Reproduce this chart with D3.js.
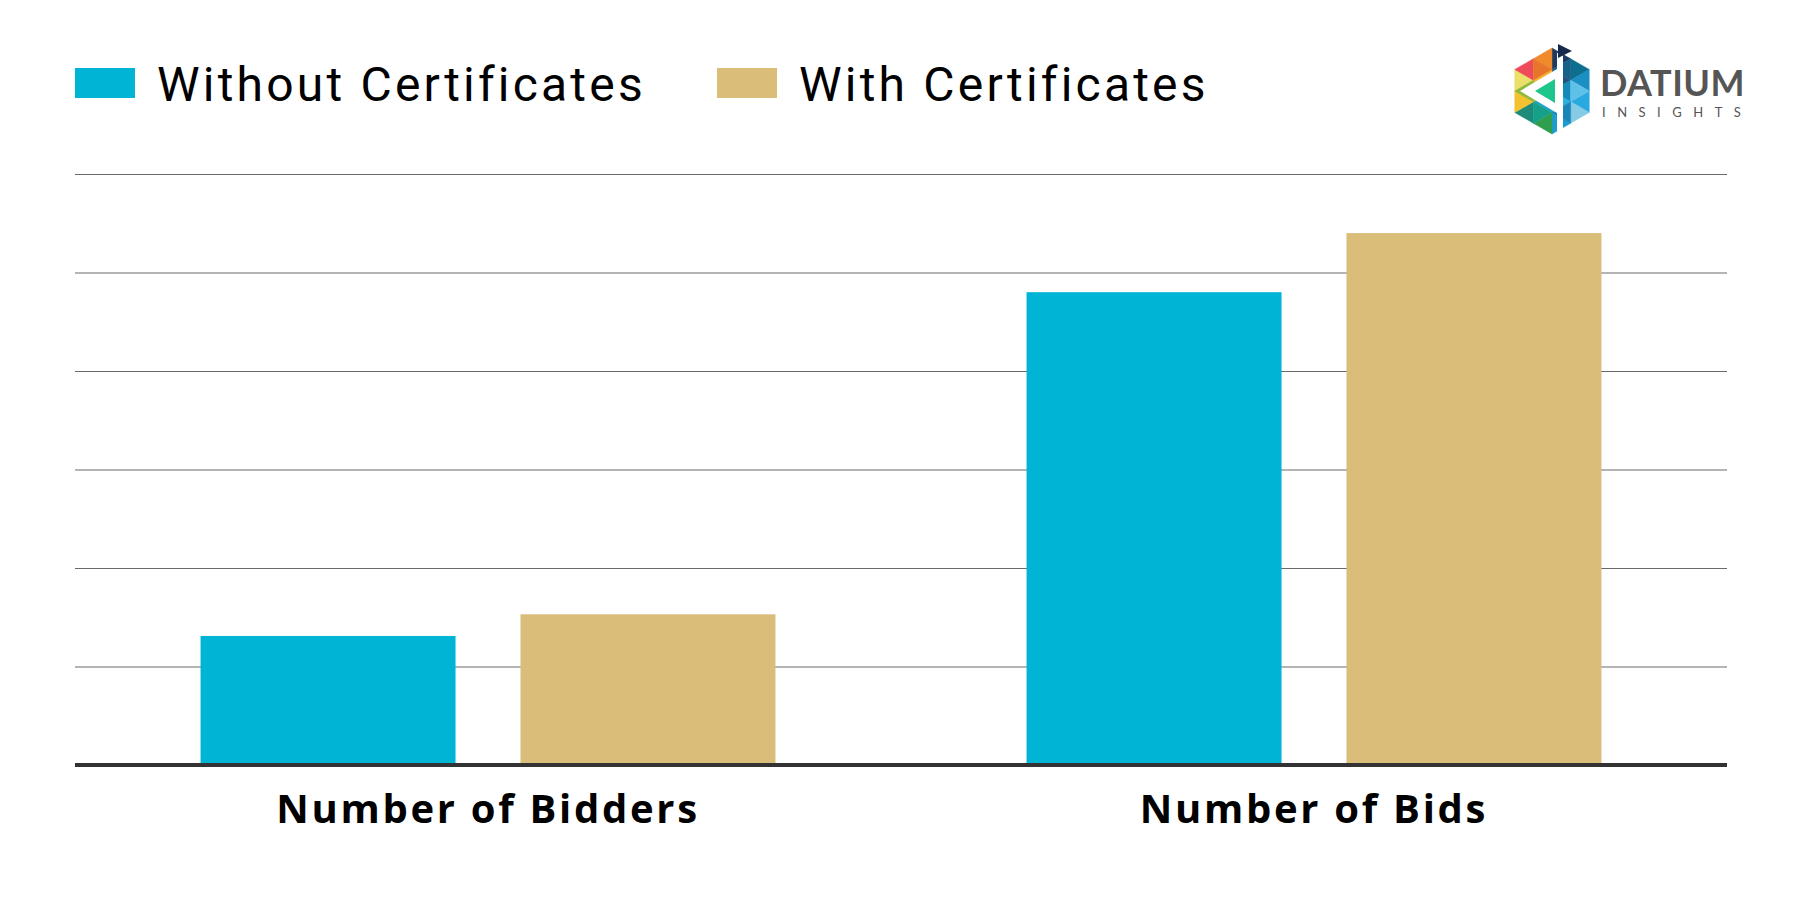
<!DOCTYPE html>
<html>
<head>
<meta charset="utf-8">
<script src="https://cdn.jsdelivr.net/npm/d3@7"></script>
<style>
  html, body { margin: 0; padding: 0; background: #ffffff; }
  svg { display: block; }
</style>
</head>
<body>
<svg id="chart" width="1803" height="900"></svg>
<script>
// ---- data ----
const categories = ["Number of Bidders", "Number of Bids"];
const seriesNames = ["Without Certificates", "With Certificates"];
const withoutValues = [1.31, 4.80];
const withValues = [1.53, 5.40];
const yTicks = [1, 2, 3, 4, 5, 6];
const seriesColors = ["#00B4D6", "#D9BD79"];

const svg = d3.select("#chart");
const W = 1803, H = 900;
const margin = { left: 75, right: 76, top: 174, bottom: 135 };
const plotW = W - margin.left - margin.right;

const x0 = d3.scaleBand().domain(categories)
  .range([margin.left, W - margin.right])
  .paddingInner(0.304).paddingOuter(0.152);
const x1 = d3.scaleBand().domain(seriesNames)
  .range([0, x0.bandwidth()]).paddingInner(0.203).paddingOuter(0);
const y = d3.scaleLinear().domain([0, 6]).range([765, 174]);

// gridlines
const grid = svg.append("g")
  .attr("transform", `translate(${margin.left},0)`)
  .call(d3.axisLeft(y).tickValues(yTicks).tickSize(-plotW).tickFormat(""));
grid.select(".domain").remove();
grid.selectAll(".tick line").attr("stroke", "#6a6a6a").attr("stroke-width", 1.2);

// bars
const rows = categories.map((c, i) => ({ cat: c, vals: [withoutValues[i], withValues[i]] }));
const groups = svg.append("g").selectAll("g").data(rows).join("g")
  .attr("transform", d => `translate(${x0(d.cat)},0)`);
groups.selectAll("rect")
  .data(d => d.vals.map((v, j) => ({ s: seriesNames[j], v, j })))
  .join("rect")
  .attr("x", d => x1(d.s))
  .attr("width", x1.bandwidth())
  .attr("y", d => y(d.v))
  .attr("height", d => y(0) - y(d.v))
  .attr("fill", d => seriesColors[d.j]);

// x axis
const xAxis = svg.append("g")
  .attr("transform", `translate(0,${y(0)})`)
  .call(d3.axisBottom(x0).tickSize(0).tickPadding(0));
xAxis.select(".domain").remove();
svg.append("line")
  .attr("x1", margin.left).attr("x2", W - margin.right)
  .attr("y1", y(0)).attr("y2", y(0))
  .attr("stroke", "#333333").attr("stroke-width", 4);
xAxis.selectAll(".tick text")
  .attr("dy", 0)
  .attr("y", 58)
  .attr("fill", "#000")
  .style("font-family", "'Open Sans', sans-serif")
  .style("font-weight", 700)
  .style("font-size", "40px")
  .style("letter-spacing", "2.7px");

// legend
const legend = svg.append("g");
const legendX = [75, 717];
seriesNames.forEach((s, i) => {
  const g = legend.append("g").attr("transform", `translate(${legendX[i]},68)`);
  g.append("rect").attr("width", 60).attr("height", 30).attr("fill", seriesColors[i]);
  g.append("text").attr("x", 82).attr("y", 33)
    .attr("fill", "#000")
    .style("font-family", "Roboto, sans-serif")
    .style("font-size", "48px")
    .style("letter-spacing", "3.2px")
    .text(s);
});

// logo
const logo = svg.append("g").attr("transform", "translate(1552,91)");
const r = 43;
const hexPts = d3.range(6).map(k => {
  const a = (-90 + 60 * k) * Math.PI / 180;
  return [r * Math.cos(a), r * Math.sin(a)];
});
const mid = (p, q) => [(p[0] + q[0]) / 2, (p[1] + q[1]) / 2];
const sectorColors = [
  ["#1f3a5f", "#0e6e8e", "#23527c", "#16608a"],
  ["#1b8fc4", "#2aa9e0", "#148ab9", "#5fc0e8"],
  ["#86cbe6", "#1c9bd1", "#2db2e0", "#1a86b8"],
  ["#2f9e4f", "#1d8a7a", "#1fa2c9", "#16a08a"],
  ["#f2c230", "#eae06a", "#a6c03e", "#8fb83a"],
  ["#ee4a5a", "#f08a2c", "#f5b52e", "#e8762a"]
];
hexPts.forEach((p, k) => {
  const q = hexPts[(k + 1) % 6];
  const c = [0, 0];
  const mpq = mid(p, q), mcp = mid(c, p), mcq = mid(c, q);
  const tris = [[p, mpq, mcp], [mpq, q, mcq], [mcp, mcq, c], [mcp, mpq, mcq]];
  tris.forEach((t, ti) => {
    logo.append("path")
      .attr("d", "M" + t.map(v => v.join(",")).join("L") + "Z")
      .attr("fill", sectorColors[k][ti])
      .attr("stroke", sectorColors[k][ti]).attr("stroke-width", 0.5);
  });
});
logo.append("rect").attr("x", 5).attr("y", -38).attr("width", 6).attr("height", 78).attr("fill", "#fff");
logo.append("path").attr("d", "M5,-22 L-32,0 L5,22 Z").attr("fill", "#fff");
logo.append("path").attr("d", "M3,-12 L-17,0 L3,12 Z").attr("fill", "#1ec68c");
logo.append("path").attr("d", "M6,-47 L20,-40 L6,-33 Z").attr("fill", "#16294a");

svg.append("text").attr("x", 1600).attr("y", 96)
  .attr("fill", "#555555")
  .style("font-family", "Lato, sans-serif").style("font-weight", 700)
  .style("font-size", "36px").style("letter-spacing", "0.5px")
  .text("DATIUM");
svg.append("text").attr("x", 1602).attr("y", 117)
  .attr("fill", "#555555")
  .style("font-family", "Lato, sans-serif").style("font-weight", 400)
  .style("font-size", "13px").style("letter-spacing", "11.5px")
  .text("INSIGHTS");
</script>
</body>
</html>
